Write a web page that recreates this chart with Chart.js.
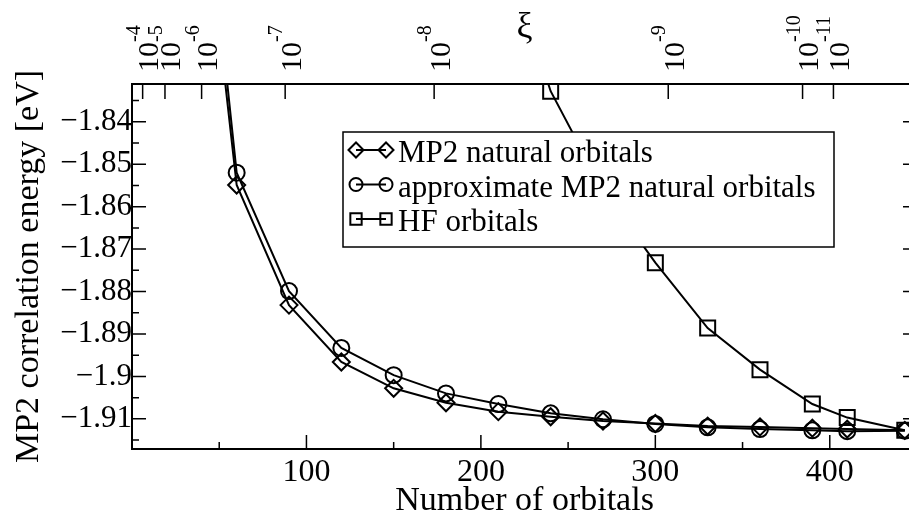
<!DOCTYPE html>
<html>
<head>
<meta charset="utf-8">
<script src="https://cdn.jsdelivr.net/npm/chart.js@4/dist/chart.umd.min.js"></script>
<style>
  html, body { margin: 0; padding: 0; background: #fff; overflow: hidden; }
  canvas { display: block; }
</style>
</head>
<body>
<canvas id="myChart" width="930" height="521"></canvas>
<script>
// number of orbitals kept in the virtual space
const orbitals = [30, 60, 90, 120, 150, 180, 210, 240, 270, 300, 330, 360, 390, 410, 443];
const mp2Natural = [-1.745, -1.8549, -1.8832, -1.8966, -1.9028, -1.9062, -1.9083, -1.9095, -1.9105, -1.9111, -1.9117, -1.9119, -1.9122, -1.9124, -1.9127];
const approxNatural = [-1.735, -1.8520, -1.8799, -1.8933, -1.8997, -1.9040, -1.9065, -1.9087, -1.9101, -1.9112, -1.9120, -1.9124, -1.9127, -1.9129, -1.9128];

const hfOrbitals = [210, 240, 270, 300, 330, 360, 390, 410, 443];
const hfEnergy = [-1.795, -1.8328, -1.8561, -1.8732, -1.8886, -1.8984, -1.9065, -1.9097, -1.9127];

// threshold xi that gives the orbital count below it
const xiOrbitals = [6.1, 18.9, 39.9, 87.8, 173.2, 307.4, 384.4, 402.1];
const xiExponents = [-4, -5, -6, -7, -8, -9, -10, -11];

const seriesLabels = ['MP2 natural orbitals', 'approximate MP2 natural orbitals', 'HF orbitals'];
const serif = '"Liberation Serif", "Times New Roman", serif';

const toPoints = (xs, ys) => xs.map((x, i) => ({ x: x, y: ys[i] }));

const lineStyle = {
  borderColor: '#000',
  backgroundColor: 'rgba(0,0,0,0)',
  borderWidth: 2,
  tension: 0,
  clip: 0,
  pointBorderColor: '#000',
  pointBorderWidth: 2,
  pointBackgroundColor: 'rgba(0,0,0,0)'
};

const frame = {
  id: 'frame',
  afterDatasetsDraw(chart) {
    const { ctx, chartArea: a, scales: { x, y } } = chart;
    ctx.save();
    ctx.strokeStyle = '#000';
    ctx.lineWidth = 2;
    ctx.strokeRect(a.left, a.top, a.right - a.left, a.bottom - a.top);

    ctx.lineWidth = 1.5;
    ctx.beginPath();
    for (let v = 50; v < x.max; v += 50) {
      const px = x.getPixelForValue(v);
      const len = v % 100 === 0 ? 14 : 7;
      ctx.moveTo(px, a.bottom);
      ctx.lineTo(px, a.bottom - len);
    }
    for (let i = Math.ceil(y.min / 0.005 - 1e-6); i * 0.005 <= y.max + 1e-9; i++) {
      const py = y.getPixelForValue(i * 0.005);
      const len = i % 2 === 0 ? 14 : 7;
      ctx.moveTo(a.left, py);
      ctx.lineTo(a.left + len, py);
      ctx.moveTo(a.right, py);
      ctx.lineTo(a.right - len, py);
    }
    xiOrbitals.forEach(v => {
      const px = x.getPixelForValue(v);
      ctx.moveTo(px, a.top);
      ctx.lineTo(px, a.top + 15);
    });
    ctx.stroke();

    // rotated 10^n labels of the xi axis
    ctx.fillStyle = '#000';
    ctx.textAlign = 'left';
    ctx.textBaseline = 'alphabetic';
    xiOrbitals.forEach((v, i) => {
      const px = x.getPixelForValue(v);
      ctx.save();
      ctx.translate(px, a.top - 12);
      ctx.rotate(-Math.PI / 2);
      ctx.font = '30px ' + serif;
      ctx.fillText('10', 0, 15.5);
      const w = ctx.measureText('10').width;
      ctx.font = '20px ' + serif;
      ctx.fillText(String(xiExponents[i]), w, -3);
      ctx.restore();
    });
    ctx.restore();
  },
  afterDraw(chart) {
    const { ctx, chartArea: a } = chart;
    const bx = a.left + 211, by = a.top + 48, bw = 491, bh = 115;
    ctx.save();
    ctx.fillStyle = '#fff';
    ctx.fillRect(bx, by, bw, bh);
    ctx.strokeStyle = '#000';
    ctx.lineWidth = 1.5;
    ctx.strokeRect(bx, by, bw, bh);

    ctx.font = '31px ' + serif;
    ctx.textAlign = 'left';
    ctx.textBaseline = 'alphabetic';
    const styles = [
      { pointStyle: 'rectRot', radius: 7.5 },
      { pointStyle: 'circle', radius: 6.5 },
      { pointStyle: 'rect', radius: 8 }
    ];
    chart.data.datasets.forEach((ds, i) => {
      const base = by + 30 + i * 34.5;
      const cy = base - 12;
      ctx.lineWidth = 2;
      ctx.beginPath();
      ctx.moveTo(bx + 13, cy);
      ctx.lineTo(bx + 43, cy);
      ctx.stroke();
      ctx.fillStyle = 'rgba(0,0,0,0)';
      [bx + 13, bx + 43].forEach(cx => {
        Chart.helpers.drawPoint(ctx, { pointStyle: styles[i].pointStyle, radius: styles[i].radius, rotation: 0, borderWidth: 2 }, cx, cy);
      });
      ctx.fillStyle = '#000';
      ctx.fillText(ds.label, bx + 55, base);
    });
    ctx.restore();
  }
};

const ctx = document.getElementById('myChart').getContext('2d');

new Chart(ctx, {
  type: 'line',
  data: {
    datasets: [{
      ...lineStyle,
      label: seriesLabels[0],
      data: toPoints(orbitals, mp2Natural),
      pointStyle: 'rectRot',
      pointRadius: 8.5
    }, {
      ...lineStyle,
      label: seriesLabels[1],
      data: toPoints(orbitals, approxNatural),
      pointStyle: 'circle',
      pointRadius: 8
    }, {
      ...lineStyle,
      label: seriesLabels[2],
      data: toPoints(hfOrbitals, hfEnergy),
      pointStyle: 'rect',
      pointRadius: 10.6
    }]
  },
  options: {
    responsive: false,
    animation: false,
    events: [],
    layout: { padding: { left: 0, right: 13, top: 0, bottom: 0 } },
    scales: {
      x: {
        type: 'linear',
        position: 'bottom',
        min: 0,
        max: 450,
        grid: { display: false, drawTicks: false },
        border: { display: false },
        ticks: {
          stepSize: 100,
          includeBounds: false,
          maxRotation: 0,
          padding: 4,
          color: '#000',
          font: { family: serif, size: 32 },
          callback: v => (v === 0 ? '' : v)
        },
        title: {
          display: true,
          text: 'Number of orbitals',
          color: '#000',
          font: { family: serif, size: 34 },
          padding: { top: 0, bottom: 0 }
        },
        afterFit: s => { s.height = 72; }
      },
      xi: {
        type: 'linear',
        position: 'top',
        min: 0,
        max: 450,
        grid: { display: false, drawTicks: false },
        border: { display: false },
        ticks: { display: false },
        afterBuildTicks: s => { s.ticks = xiOrbitals.map(v => ({ value: v })); },
        title: {
          display: true,
          text: 'ξ',
          color: '#000',
          font: { family: serif, size: 36 },
          padding: { top: 6, bottom: 0 }
        },
        afterFit: s => { s.height = 84; }
      },
      y: {
        type: 'linear',
        min: -1.9171,
        max: -1.8311,
        grid: { display: false, drawTicks: false },
        border: { display: false },
        ticks: {
          stepSize: 0.01,
          includeBounds: false,
          padding: 0,
          color: '#000',
          font: { family: serif, size: 31 },
          callback: v => String(Math.round(v * 1000) / 1000).replace('-', '\u2212')
        },
        title: {
          display: true,
          text: 'MP2 correlation energy [eV]',
          color: '#000',
          font: { family: serif, size: 34 },
          padding: { top: 9, bottom: 0 }
        },
        afterFit: s => { s.width = 132; }
      }
    },
    plugins: {
      legend: { display: false },
      tooltip: { enabled: false }
    }
  },
  plugins: [frame]
});
</script>
</body>
</html>
